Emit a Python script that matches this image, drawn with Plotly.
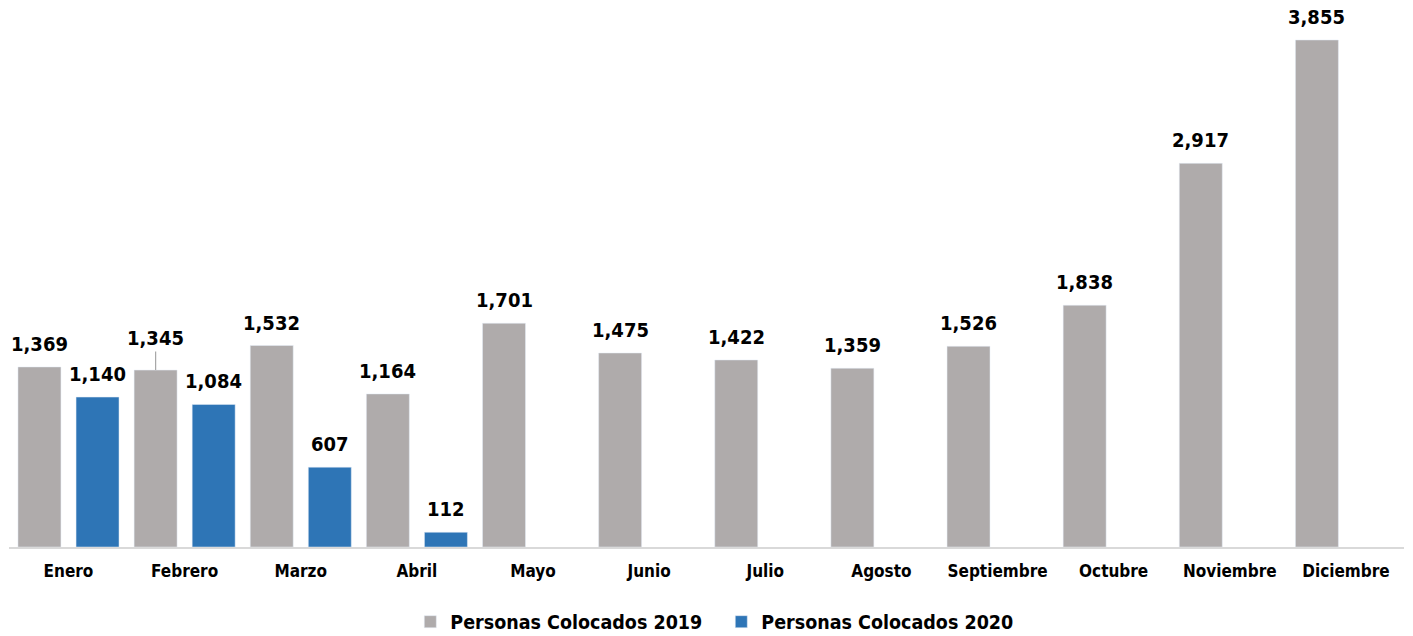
import plotly.graph_objects as go

months = ["Enero", "Febrero", "Marzo", "Abril", "Mayo", "Junio", "Julio",
          "Agosto", "Septiembre", "Octubre", "Noviembre", "Diciembre"]
values_2019 = [1369, 1345, 1532, 1164, 1701, 1475, 1422, 1359, 1526, 1838, 2917, 3855]
months_2020 = ["Enero", "Febrero", "Marzo", "Abril"]
values_2020 = [1140, 1084, 607, 112]
name_2019 = "Personas Colocados 2019"
name_2020 = "Personas Colocados 2020"

GRAY = "#AFABAB"
BLUE = "#2E75B6"
FONT = "DejaVu Sans Condensed"
SLOT = 29  # pixel offset of each bar from its category centre

def fmt(v):
    return f"{v:,}"

label_font = dict(family=FONT, size=20, color="black", weight="bold")

fig = go.Figure()
fig.add_trace(go.Bar(x=months, y=values_2019, name=name_2019, marker_color=GRAY))
fig.add_trace(go.Bar(x=months_2020, y=values_2020, name=name_2020, marker_color=BLUE))

# data labels
for m, v in zip(months, values_2019):
    if m == "Febrero":
        fig.add_annotation(
            x=m, y=v, xshift=-SLOT, text=fmt(v),
            showarrow=True, arrowhead=0, arrowwidth=1.2, arrowcolor="#A6A6A6",
            ax=0, ay=-32, standoff=0, font=label_font,
        )
    else:
        fig.add_annotation(x=m, y=v, xshift=-SLOT, yshift=9, text=fmt(v),
                           showarrow=False, yanchor="bottom", font=label_font)
for m, v in zip(months_2020, values_2020):
    fig.add_annotation(x=m, y=v, xshift=SLOT, yshift=9, text=fmt(v),
                       showarrow=False, yanchor="bottom", font=label_font)

fig.update_layout(
    width=1413, height=636,
    margin=dict(l=8.5, r=9, t=10, b=89),
    plot_bgcolor="white", paper_bgcolor="white",
    barmode="group", bargap=0, bargroupgap=0.26,
    showlegend=True,
    legend=dict(orientation="h", x=0.5106, xanchor="center",
                yref="container", y=0.022, yanchor="middle",
                font=dict(family=FONT, size=19.5, color="black", weight="bold"),
                itemwidth=30, tracegroupgap=0,
                entrywidth=266, entrywidthmode="pixels"),
    font=dict(family=FONT),
)
fig.update_xaxes(
    showline=True, linecolor="#D9D9D9", linewidth=1.5, ticks="",
    ticklabelstandoff=8,
    tickfont=dict(family=FONT, size=17, color="black", weight="bold"),
    categoryorder="array", categoryarray=months,
)
fig.update_yaxes(visible=False, range=[0, 4083], showgrid=False)

fig.write_html("out.html", config={"displayModeBar": False},
               post_script="document.body.style.margin='0';")
